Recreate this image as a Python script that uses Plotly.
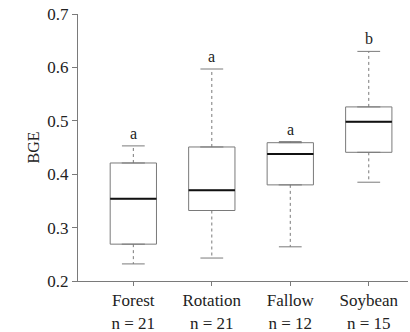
import plotly.graph_objects as go

categories = ["Forest", "Rotation", "Fallow", "Soybean"]
n_obs = [21, 21, 12, 15]
lower_whisker = [0.232, 0.243, 0.264, 0.385]
q1 = [0.269, 0.332, 0.380, 0.441]
median = [0.354, 0.370, 0.438, 0.498]
q3 = [0.421, 0.451, 0.459, 0.526]
upper_whisker = [0.453, 0.597, 0.461, 0.630]
letters = ["a", "a", "a", "b"]
y_ticks = [0.2, 0.3, 0.4, 0.5, 0.6, 0.7]

FONT = "Liberation Serif"
BOX_W = 0.59
CAP_W = 0.29
GRAY = "#7a7a7a"

labels = [f"{c}<br>n = {n}" for c, n in zip(categories, n_obs)]

fig = go.Figure()

# boxes (q1..q3)
fig.add_trace(go.Box(
    x=labels, q1=q1, median=median, q3=q3,
    lowerfence=q1, upperfence=q3,
    width=BOX_W, fillcolor="white",
    line=dict(color=GRAY, width=1),
    boxpoints=False, hoverinfo="skip", showlegend=False,
))

# whiskers (dotted) and caps, built from the data
wx, wy, cx, cy, mx, my = [], [], [], [], [], []
for i, lab in enumerate(labels):
    wx += [i, i, None, i, i, None]
    wy += [q3[i], upper_whisker[i], None, q1[i], lower_whisker[i], None]
    cx += [i - CAP_W / 2, i + CAP_W / 2, None, i - CAP_W / 2, i + CAP_W / 2, None]
    cy += [upper_whisker[i], upper_whisker[i], None, lower_whisker[i], lower_whisker[i], None]
    mx += [i - BOX_W / 2, i + BOX_W / 2, None]
    my += [median[i], median[i], None]

fig.add_trace(go.Scatter(x=wx, y=wy, mode="lines", xaxis="x2",
                         line=dict(color=GRAY, width=1, dash="dot"),
                         hoverinfo="skip", showlegend=False))
fig.add_trace(go.Scatter(x=cx, y=cy, mode="lines", xaxis="x2",
                         line=dict(color=GRAY, width=1),
                         hoverinfo="skip", showlegend=False))
fig.add_trace(go.Scatter(x=mx, y=my, mode="lines", xaxis="x2",
                         line=dict(color="#111111", width=2),
                         hoverinfo="skip", showlegend=False))

for i, let in enumerate(letters):
    fig.add_annotation(x=i, y=upper_whisker[i], xref="x2", yref="y",
                       text=let, showarrow=False, yanchor="bottom", yshift=2,
                       font=dict(family=FONT, size=16, color="#222222"))

XR = [-0.705, 3.5]
fig.update_layout(
    width=410, height=332,
    margin=dict(l=78, r=2, t=14, b=51, autoexpand=False),
    paper_bgcolor="white", plot_bgcolor="white",
    font=dict(family=FONT, color="#222222", size=16),
    xaxis=dict(type="category", categoryorder="array", categoryarray=labels,
               range=XR, showgrid=False, zeroline=False, automargin=False,
               showline=True, linecolor=GRAY, linewidth=1,
               ticks="outside", ticklen=4, tickcolor=GRAY,
               tickfont=dict(family=FONT, size=17, color="#222222")),
    xaxis2=dict(overlaying="x", range=XR, visible=False),
    yaxis=dict(range=[0.2, 0.7], tickvals=y_ticks, tickformat=".1f",
               showgrid=False, zeroline=False, automargin=False,
               showline=True, linecolor=GRAY, linewidth=1,
               ticks="outside", ticklen=5, tickcolor=GRAY,
               tickfont=dict(family=FONT, size=17, color="#222222"),
               title=dict(text="BGE", font=dict(family=FONT, size=16, color="#222222"),
                          standoff=3)),
)

fig.write_html("out.html", config={"displayModeBar": False},
               post_script="document.body.style.margin='0';document.body.style.overflow='hidden';")
